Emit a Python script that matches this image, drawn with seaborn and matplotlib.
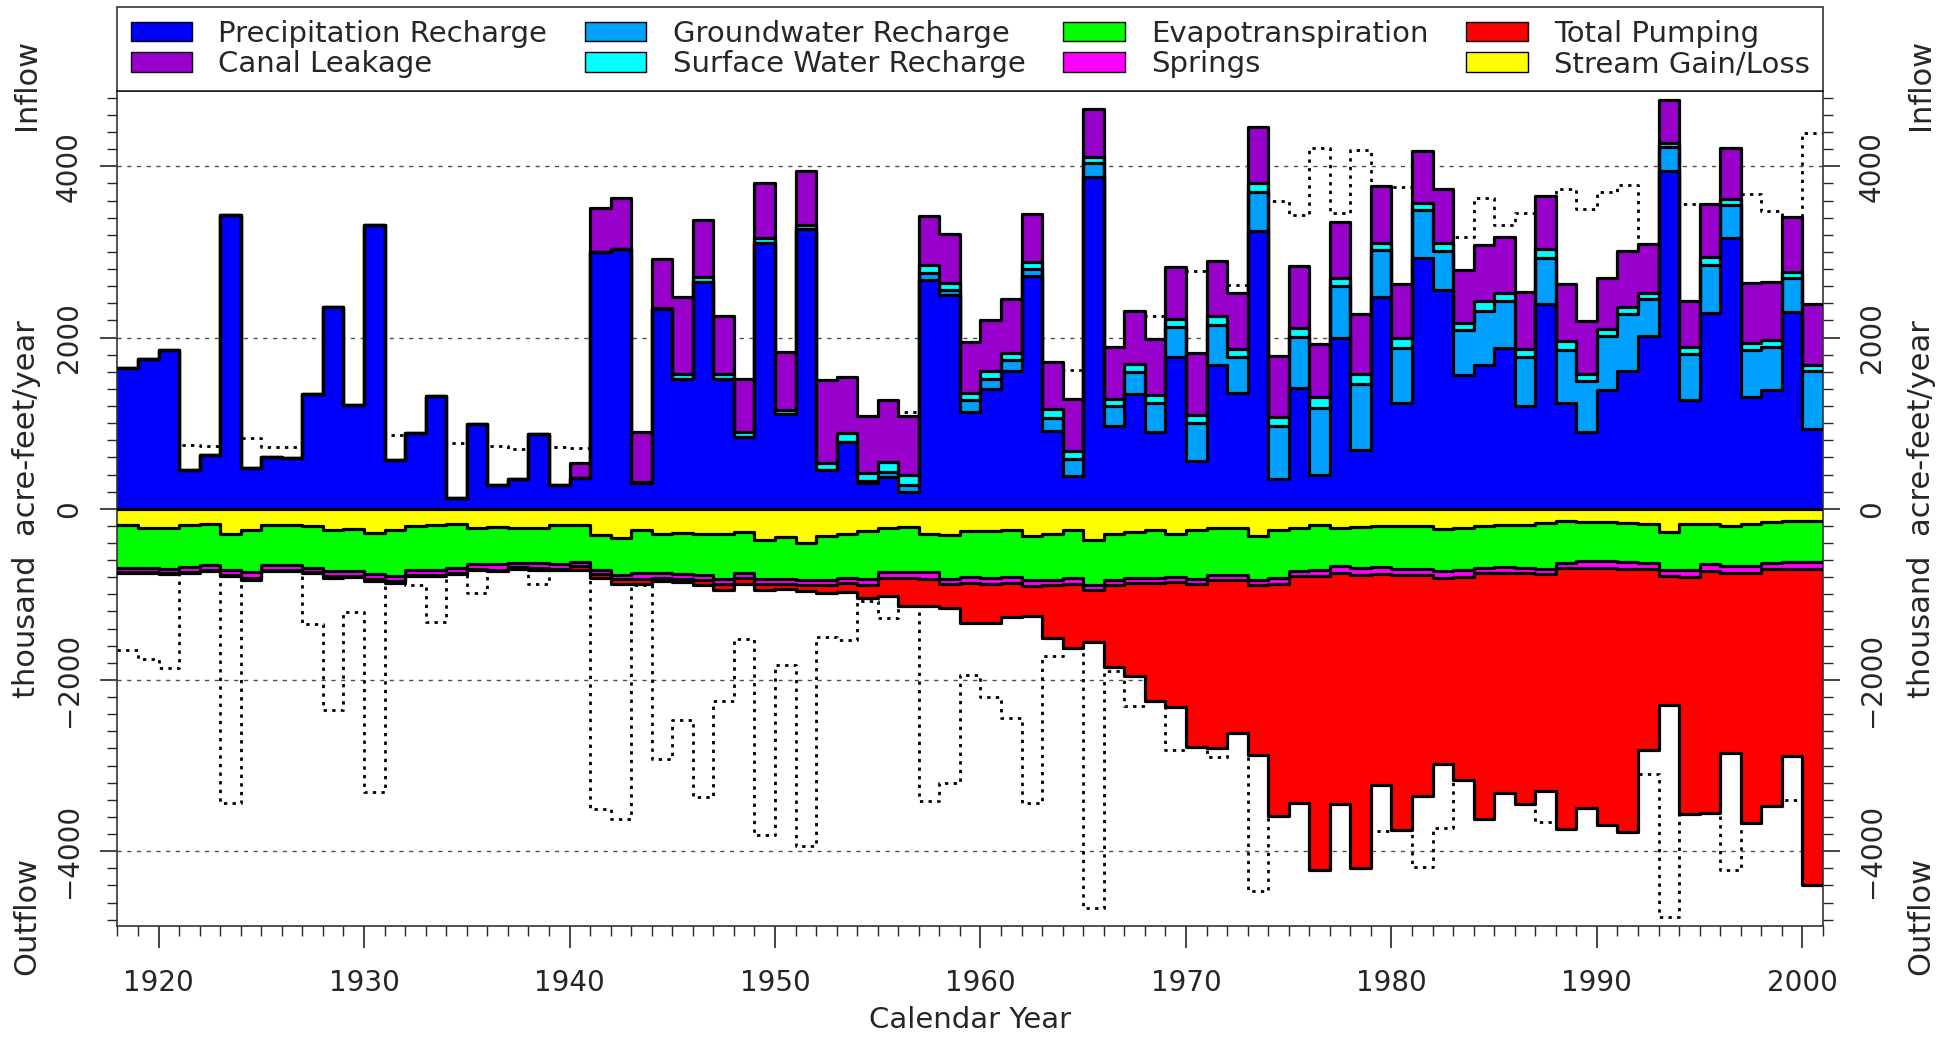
import numpy as np
import pandas as pd
import matplotlib
matplotlib.use("Agg")
from matplotlib import pyplot as plt
from matplotlib.patches import Patch
from matplotlib.ticker import MultipleLocator
import seaborn as sns

# annual water budget, thousand acre-feet/year, 1918-2000
years = np.arange(1918, 2001)

precip = [1650, 1755,
          1860, 455, 630, 3435, 480, 605, 590, 1345, 2355, 1210,
          3310, 565, 885, 1320, 130, 985, 280, 350, 875, 275,
          365, 3005, 3040, 300, 2335, 1520, 2650, 1520, 840, 3105,
          1110, 3270, 450, 780, 300, 370, 195, 2670, 2495, 1130,
          1395, 1605, 2720, 905, 380, 3880, 965, 1335, 895, 1775,
          555, 1675, 1355, 3245, 345, 1405, 400, 1995, 690, 2475,
          1230, 2935, 2550, 1565, 1675, 1880, 1195, 2395, 1230, 900,
          1385, 1615, 2020, 3950, 1265, 2290, 3160, 1300, 1390, 2300, 935]
gw_recharge = [0] * 36 + [30, 65, 85, 85, 65, 135,
               125, 130, 80, 155, 200, 155, 230, 265, 340, 350,
               450, 475, 415, 455, 620, 605, 780, 605, 765, 545,
               650, 560, 460, 520, 635, 550, 575, 540, 625, 590,
               630, 655, 425, 275, 545, 555, 390, 555, 505, 390, 670]
sw_recharge = [0] * 25 + [15, 10, 50, 60, 50, 60, 60,
               45, 45, 85, 100, 90, 110, 120, 90, 80, 85,
               90, 80, 80, 100, 95, 80, 90, 90, 95, 90,
               95, 100, 100, 105, 110, 105, 120, 95, 115, 85,
               110, 80, 95, 90, 115, 95, 100, 95, 110, 80,
               90, 85, 80, 45, 80, 95, 70, 85, 80, 80, 80]
canal = [0] * 22 + [165, 505, 585, 580, 575, 900, 660, 680, 620, 645,
         675, 630, 965, 655, 660, 730, 680, 570, 565, 595,
         590, 630, 560, 555, 605, 555, 610, 620, 655, 605,
         715, 650, 655, 655, 715, 720, 630, 660, 710, 665,
         640, 605, 625, 620, 660, 655, 660, 625, 660, 625,
         595, 655, 570, 505, 535, 615, 595, 700, 675, 635, 710]

stream = [195, 230,
          220, 195, 175, 290, 245, 185, 185, 205, 245, 240,
          280, 245, 205, 195, 180, 230, 210, 220, 225, 195,
          195, 310, 340, 250, 290, 280, 290, 300, 270, 360,
          330, 395, 320, 290, 265, 230, 210, 290, 310, 265,
          260, 250, 320, 290, 245, 370, 290, 270, 250, 290,
          245, 230, 230, 320, 245, 220, 195, 220, 210, 205,
          200, 205, 240, 230, 200, 185, 185, 165, 145, 160,
          160, 165, 175, 270, 180, 180, 200, 180, 155, 145, 145]
evapo = [495, 460,
         480, 485, 480, 430, 495, 475, 475, 485, 485, 490,
         485, 535, 505, 515, 510, 410, 440, 410, 410, 445,
         430, 410, 435, 505, 455, 480, 485, 515, 475, 465,
         495, 440, 515, 515, 560, 505, 525, 450, 505, 535,
         550, 545, 515, 545, 565, 525, 545, 535, 555, 505,
         570, 545, 545, 515, 565, 510, 515, 450, 485, 475,
         500, 495, 490, 485, 490, 495, 505, 535, 485, 450,
         450, 455, 460, 450, 530, 470, 470, 490, 480, 475, 475]
springs = [50, 50,
           50, 55, 60, 55, 70, 50, 50, 50, 60, 50,
           60, 65, 60, 60, 55, 60, 60, 50, 55, 60,
           45, 40, 45, 60, 60, 60, 60, 60, 60, 50,
           50, 60, 55, 60, 60, 75, 75, 75, 65, 70,
           65, 70, 70, 60, 65, 60, 60, 65, 65, 60,
           60, 60, 60, 60, 65, 60, 70, 85, 75, 80,
           75, 75, 75, 80, 65, 65, 65, 60, 65, 80,
           80, 80, 65, 70, 85, 80, 75, 75, 65, 80, 80]
pumping = [10, 10,
           15, 15, 15, 15, 20, 15, 15, 15, 15, 15,
           20, 20, 20, 20, 20, 20, 20, 20, 20, 20,
           40, 45, 60, 60, 40, 40, 60, 70, 75, 70,
           60, 65, 100, 105, 155, 205, 325, 325, 285, 465,
           465, 405, 345, 615, 750, 605, 955, 1080, 1380, 1460,
           1905, 1965, 1780, 1985, 2715, 2645, 3435, 2695, 3425, 2470,
           2980, 2580, 2175, 2375, 2870, 2570, 2695, 2540, 3045, 2810,
           3005, 3080, 2120, 1500, 2770, 2830, 2105, 2930, 2775, 2190, 3690]

inflow_names = ["Precipitation Recharge", "Groundwater Recharge",
                "Surface Water Recharge", "Canal Leakage"]
outflow_names = ["Stream Gain/Loss", "Evapotranspiration", "Springs", "Total Pumping"]
legend_order = ["Precipitation Recharge", "Canal Leakage", "Groundwater Recharge",
                "Surface Water Recharge", "Evapotranspiration", "Springs",
                "Total Pumping", "Stream Gain/Loss"]
colors = {"Precipitation Recharge": "#0000ff", "Groundwater Recharge": "#00a0ff",
          "Surface Water Recharge": "#00ffff", "Canal Leakage": "#9900cc",
          "Stream Gain/Loss": "#ffff00", "Evapotranspiration": "#00ff00",
          "Springs": "#ff00ff", "Total Pumping": "#ff0000"}

df = pd.DataFrame({"year": years,
                   "Precipitation Recharge": precip, "Groundwater Recharge": gw_recharge,
                   "Surface Water Recharge": sw_recharge, "Canal Leakage": canal,
                   "Stream Gain/Loss": stream, "Evapotranspiration": evapo,
                   "Springs": springs, "Total Pumping": pumping})

sns.set_style("white")
plt.rcParams["font.family"] = ["DejaVu Sans"]

fig = plt.figure(figsize=(19.48, 10.37), dpi=100)
ax = fig.add_axes([0.0603, 0.1070, 0.8755, 0.8048])

edges = np.append(years, years[-1] + 1)


def stepped(a):
    a = np.asarray(a, dtype=float)
    return np.append(a, a[-1])


# grid behind everything
for g in [-4000, -2000, 2000, 4000]:
    ax.axhline(g, color="0.3", lw=1.0, ls=(0, (3, 4)), zorder=0.5)

# dotted mirrors: total outflow shown above, total inflow shown below
tot_in = df[inflow_names].sum(axis=1).values
tot_out = df[outflow_names].sum(axis=1).values
mirror = pd.DataFrame({"x": np.concatenate([edges, edges]),
                       "y": np.concatenate([stepped(tot_out), -stepped(tot_in)]),
                       "which": ["out"] * len(edges) + ["in"] * len(edges)})
for key, part in mirror.groupby("which"):
    sns.lineplot(data=part, x="x", y="y", ax=ax, color="black", lw=2.0,
                 linestyle=(0, (1.2, 1.9)), drawstyle="steps-post",
                 estimator=None, sort=False, zorder=1)

# inflow stack (positive)
base = np.zeros(len(years))
levels_in = []
for name in inflow_names:
    top = base + df[name].values
    ax.fill_between(edges, stepped(base), stepped(top), step="post",
                    color=colors[name], lw=0, zorder=2)
    levels_in.append(top)
    base = top

# outflow stack (negative)
base = np.zeros(len(years))
levels_out = []
for name in outflow_names:
    bot = base - df[name].values
    ax.fill_between(edges, stepped(bot), stepped(base), step="post",
                    color=colors[name], lw=0, zorder=2)
    levels_out.append(bot)
    base = bot

for lev in levels_in + levels_out:
    ax.step(edges, stepped(lev), where="post", color="black", lw=2.3, zorder=3)
ax.axhline(0, color="black", lw=2.3, zorder=3)

ax.set_xlim(1918, 2001)
ax.set_ylim(-4875, 4875)
ax.set_xlabel("")
ax.set_ylabel("")

ax.set_xticks(range(1920, 2001, 10))
ax.xaxis.set_minor_locator(MultipleLocator(1))
ax.set_yticks([-4000, -2000, 0, 2000, 4000])
ax.yaxis.set_minor_locator(MultipleLocator(200))
ax.tick_params(axis="x", which="major", direction="out", length=16, width=1.2,
               labelsize=20, pad=15, bottom=True)
ax.tick_params(axis="x", which="minor", direction="out", length=7.5, width=1.0, bottom=True)
ax.tick_params(axis="y", which="major", direction="out", length=12, width=1.2,
               labelsize=20, pad=13, left=True, right=True,
               labelleft=True, labelright=True, labelrotation=90)
ax.tick_params(axis="y", which="minor", direction="out", length=7, width=1.0,
               left=True, right=True)
for lab in ax.get_yticklabels():
    lab.set_va("center")
for s in ax.spines.values():
    s.set_color("0.2")
    s.set_linewidth(1.2)

# legend box above the plot
handles = [Patch(facecolor=colors[n], edgecolor="black", lw=1.0) for n in legend_order]
leg = ax.legend(handles, legend_order, ncol=4, loc="lower left",
                bbox_to_anchor=(0, 1.0, 1, 0.1), mode="expand", borderaxespad=0,
                frameon=True, fancybox=False, edgecolor="black", fontsize=21,
                handlelength=2.1, handleheight=0.65, handletextpad=0.9,
                labelspacing=0.08, borderpad=0.45, columnspacing=0.8)
leg.get_frame().set_linewidth(1.2)

# axis captions
fig.text(970 / 1948, 1 - 1020 / 1037, "Calendar Year", ha="center", va="center", fontsize=21)
for xpos in [27 / 1948, 1921 / 1948]:
    fig.text(xpos, 1 - 84 / 1037, "Inflow", rotation=90, ha="center", va="center", fontsize=22)
    fig.text(xpos, 1 - 509 / 1037, "thousand  acre-feet/year", rotation=90,
             ha="center", va="center", fontsize=22)
    fig.text(xpos, 1 - 916 / 1037, "Outflow", rotation=90, ha="center", va="center", fontsize=22)

fig.savefig("out.png", dpi=100)
